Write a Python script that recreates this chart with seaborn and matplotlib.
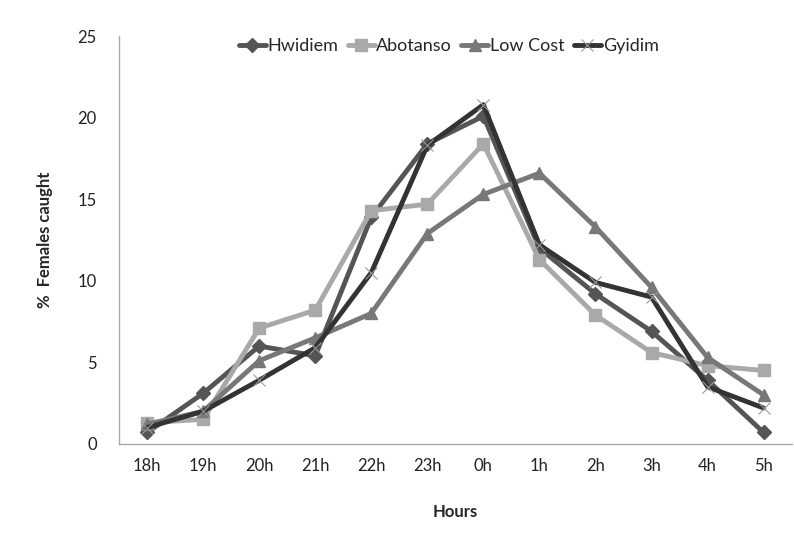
import matplotlib.pyplot as plt
import seaborn as sns
import pandas as pd

sns.set_style("white")
plt.rcParams["font.family"] = ["Lato", "DejaVu Sans"]

hours = ["18h", "19h", "20h", "21h", "22h", "23h", "0h", "1h", "2h", "3h", "4h", "5h"]
hwidiem = [0.7, 3.1, 6.0, 5.4, 13.9, 18.4, 20.1, 12.0, 9.2, 6.9, 3.9, 0.7]
abotanso = [1.3, 1.5, 7.1, 8.2, 14.3, 14.7, 18.4, 11.3, 7.9, 5.6, 4.8, 4.5]
low_cost = [1.2, 2.0, 5.1, 6.5, 8.0, 12.9, 15.3, 16.6, 13.3, 9.6, 5.3, 3.0]
gyidim = [1.0, 2.0, 3.9, 5.9, 10.5, 18.3, 20.8, 12.2, 9.9, 9.0, 3.5, 2.2]

series = {"Hwidiem": hwidiem, "Abotanso": abotanso, "Low Cost": low_cost, "Gyidim": gyidim}
rows = []
for name, vals in series.items():
    for i, v in enumerate(vals):
        rows.append({"pos": i, "value": v, "trap": name})
df = pd.DataFrame(rows)

colors = {"Hwidiem": "#555555", "Abotanso": "#a9a9a9", "Low Cost": "#787878", "Gyidim": "#333333"}
markers = {"Hwidiem": "D", "Abotanso": "s", "Low Cost": "^", "Gyidim": "x"}
sizes = {"Hwidiem": 7, "Abotanso": 9, "Low Cost": 9, "Gyidim": 8}

fig = plt.figure(figsize=(7.94, 5.4), dpi=100)
ax = fig.add_axes([0.15, 0.178, 0.847, 0.755])

for name in series:
    sub = df[df["trap"] == name]
    sns.lineplot(data=sub, x="pos", y="value", ax=ax, color=colors[name], linewidth=3.5,
                 marker=markers[name], markersize=sizes[name], markeredgewidth=1 if name != "Gyidim" else 0.8,
                 markeredgecolor=colors[name] if name != "Gyidim" else "#999999", label=name)

ax.set_xlim(-0.5, len(hours) - 0.5)
ax.set_ylim(0, 25)
ax.set_yticks([0, 5, 10, 15, 20, 25])
ax.set_xticks(range(len(hours)))
ax.set_xticklabels(hours)
ax.set_xticks([i - 0.5 for i in range(len(hours) + 1)], minor=True)
ax.tick_params(axis="x", which="major", length=0, pad=10, labelsize=12, colors="#222222")
ax.tick_params(axis="x", which="minor", length=6, width=1, color="#aaaaaa", direction="out")
ax.tick_params(axis="y", length=6, width=1, color="#aaaaaa", direction="out", pad=10, labelsize=12, labelcolor="#222222")
ax.set_xlabel("Hours", fontsize=12, fontweight="bold", labelpad=22)
ax.set_ylabel("%  Females caught", fontsize=12, fontweight="bold", labelpad=18)

for side in ["top", "right"]:
    ax.spines[side].set_visible(False)
for side in ["left", "bottom"]:
    ax.spines[side].set_color("#aaaaaa")
    ax.spines[side].set_linewidth(1)

ax.legend(loc="upper center", bbox_to_anchor=(0.49, 1.035), ncol=4, frameon=False, fontsize=13,
          handlelength=1.5, handletextpad=0.1, columnspacing=0.5)

fig.savefig("out.png", dpi=100)
plt.close(fig)
